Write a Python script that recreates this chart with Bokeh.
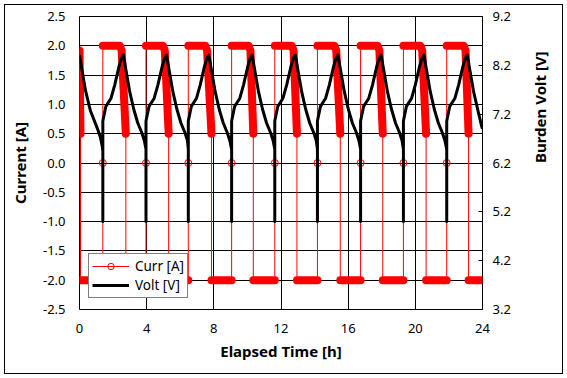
import math
from bokeh.plotting import figure
from bokeh.models import (Range1d, LinearAxis, FixedTicker, PrintfTickFormatter,
                          Legend, LegendItem)
from bokeh.embed import file_html
from bokeh.resources import INLINE

# ---------------- data ----------------
x_ticks = [0, 4, 8, 12, 16, 20, 24]
curr_ticks = [-2.5, -2.0, -1.5, -1.0, -0.5, 0.0, 0.5, 1.0, 1.5, 2.0, 2.5]
volt_ticks = [3.2, 4.2, 5.2, 6.2, 7.2, 8.2, 9.2]

# Current: cycle event times [h]
charge_start = [1.39, 3.96, 6.48, 9.06, 11.63, 14.17, 16.74, 19.29, 21.87]   # rest point / jump to +2 A
cv_start     = [2.41, 4.98, 7.50, 10.08, 12.65, 15.19, 17.76, 20.31, 22.89]  # end of constant current
cv_knee      = [2.51, 5.08, 7.60, 10.18, 12.75, 15.29, 17.86, 20.41, 22.99]
disch_start  = [2.76, 5.31, 7.86, 10.35, 12.95, 15.53, 18.06, 20.64, 23.17]  # jump to -2 A
init_t = [0.00, 0.06]
init_a = [1.92, 0.50]
end_t = 24.0
i_charge, i_knee, i_cv_end, i_rest, i_disch = 2.0, 1.92, 0.5, 0.0, -2.0

# Voltage [V] (secondary axis), explicit points
volt_t = [
    [0.00, 0.16, 0.36, 0.65, 1.05, 1.25, 1.35, 1.39],
    [1.39, 1.39, 1.57, 1.87, 2.10, 2.34, 2.49, 2.61, 2.79, 2.99, 3.23, 3.47, 3.71, 3.86, 3.96],
    [3.96, 3.96, 4.14, 4.44, 4.67, 4.91, 5.06, 5.18, 5.36, 5.56, 5.80, 6.04, 6.28, 6.43, 6.48],
    [6.48, 6.48, 6.66, 6.96, 7.19, 7.43, 7.58, 7.70, 7.88, 8.08, 8.32, 8.56, 8.80, 8.95, 9.06],
    [9.06, 9.06, 9.24, 9.54, 9.77, 10.01, 10.16, 10.28, 10.46, 10.66, 10.90, 11.14, 11.38, 11.53, 11.63],
    [11.63, 11.63, 11.81, 12.11, 12.34, 12.58, 12.73, 12.85, 13.03, 13.23, 13.47, 13.71, 13.95, 14.10, 14.17],
    [14.17, 14.17, 14.35, 14.65, 14.88, 15.12, 15.27, 15.39, 15.57, 15.77, 16.01, 16.25, 16.49, 16.64, 16.74],
    [16.74, 16.74, 16.92, 17.22, 17.45, 17.69, 17.84, 17.96, 18.14, 18.34, 18.58, 18.82, 19.06, 19.21, 19.29],
    [19.29, 19.29, 19.47, 19.77, 20.00, 20.24, 20.39, 20.51, 20.69, 20.89, 21.13, 21.37, 21.61, 21.76, 21.87],
    [21.87, 21.87, 22.05, 22.35, 22.58, 22.82, 22.97, 23.09, 23.27, 23.47, 23.71, 23.95, 24.00],
]
volt_v = [
    [8.41, 8.08, 7.68, 7.27, 6.92, 6.72, 6.55, 6.45],
    [5.0, 7.06, 7.36, 7.52, 7.80, 8.16, 8.34, 8.41, 8.06, 7.66, 7.30, 7.02, 6.82, 6.66, 6.48],
    [5.0, 7.06, 7.36, 7.52, 7.80, 8.16, 8.34, 8.41, 8.06, 7.66, 7.30, 7.02, 6.82, 6.66, 6.48],
    [5.0, 7.06, 7.36, 7.52, 7.80, 8.16, 8.34, 8.41, 8.06, 7.66, 7.30, 7.02, 6.82, 6.66, 6.48],
    [5.0, 7.06, 7.36, 7.52, 7.80, 8.16, 8.34, 8.41, 8.06, 7.66, 7.30, 7.02, 6.82, 6.66, 6.48],
    [5.0, 7.06, 7.36, 7.52, 7.80, 8.16, 8.34, 8.41, 8.06, 7.66, 7.30, 7.02, 6.82, 6.66, 6.48],
    [5.0, 7.06, 7.36, 7.52, 7.80, 8.16, 8.34, 8.41, 8.06, 7.66, 7.30, 7.02, 6.82, 6.66, 6.48],
    [5.0, 7.06, 7.36, 7.52, 7.80, 8.16, 8.34, 8.41, 8.06, 7.66, 7.30, 7.02, 6.82, 6.66, 6.48],
    [5.0, 7.06, 7.36, 7.52, 7.80, 8.16, 8.34, 8.41, 8.06, 7.66, 7.30, 7.02, 6.82, 6.66, 6.48],
    [5.0, 7.06, 7.36, 7.52, 7.80, 8.16, 8.34, 8.41, 8.06, 7.66, 7.30, 6.95, 6.90],
]

# ---------------- build series ----------------
NaN = float("nan")
thin_x, thin_y = list(init_t), list(init_a)
thin_x.append(init_t[-1]); thin_y.append(i_disch)
thick_x = list(init_t) + [NaN, init_t[-1], charge_start[0], NaN]
thick_y = list(init_a) + [NaN, i_disch, i_disch, NaN]
for k in range(len(charge_start)):
    ta, tc, tk, tb = charge_start[k], cv_start[k], cv_knee[k], disch_start[k]
    tn = charge_start[k + 1] if k + 1 < len(charge_start) else end_t
    thin_x += [ta, ta, ta, tc, tk, tb, tb]
    thin_y += [i_disch, i_rest, i_charge, i_charge, i_knee, i_cv_end, i_disch]
    thick_x += [ta, tc, tk, tb, NaN, tb, tn, NaN]
    thick_y += [i_charge, i_charge, i_knee, i_cv_end, NaN, i_disch, i_disch, NaN]
thin_x.append(end_t); thin_y.append(i_disch)

vx, vy = [], []
for ts, vs in zip(volt_t, volt_v):
    vx += ts
    vy += vs

FONT = "Noto Sans"

p = figure(width=557, height=368, output_backend="svg", toolbar_location=None,
           x_range=Range1d(0, 24), y_range=Range1d(-2.5, 2.5),
           min_border_left=74, min_border_right=79, min_border_top=11, min_border_bottom=64)
p.margin = (5, 5, 5, 5)
p.styles = {"outline": "1px solid black"}
p.extra_y_ranges = {"volt": Range1d(3.2, 9.2)}
p.outline_line_color = "black"
p.outline_line_width = 1
p.background_fill_color = "white"
p.border_fill_color = "white"

p.xaxis.ticker = FixedTicker(ticks=x_ticks)
p.yaxis.ticker = FixedTicker(ticks=curr_ticks)
p.yaxis.formatter = PrintfTickFormatter(format="%.1f")
for ax in (p.xaxis[0], p.yaxis[0]):
    ax.major_tick_in = 0
    ax.major_tick_out = 0
    ax.minor_tick_line_color = None
    ax.axis_line_color = None
    ax.major_label_text_font = FONT
    ax.major_label_text_font_size = "13px"
    ax.major_label_text_color = "black"
    ax.axis_label_text_font = FONT
    ax.axis_label_text_font_size = "15px"
    ax.axis_label_text_font_style = "bold"
    ax.axis_label_text_color = "black"
p.xaxis.major_label_standoff = 14
p.xaxis.axis_label = "Elapsed Time [h]"
p.xaxis.axis_label_standoff = 5
p.yaxis.major_label_standoff = 14
p.yaxis.axis_label = "Current [A]"
p.yaxis.axis_label_standoff = 10

ry = LinearAxis(y_range_name="volt", ticker=FixedTicker(ticks=volt_ticks),
                formatter=PrintfTickFormatter(format="%.1f"))
ry.major_tick_in = 4
ry.major_tick_out = 0
ry.major_tick_line_color = "black"
ry.minor_tick_line_color = None
ry.axis_line_color = None
ry.major_label_standoff = 10
ry.major_label_text_font = FONT
ry.major_label_text_font_size = "13px"
ry.major_label_text_color = "black"
ry.axis_label = "Burden Volt [V]"
ry.axis_label_standoff = 26
ry.axis_label_text_font = FONT
ry.axis_label_text_font_size = "15px"
ry.axis_label_text_font_style = "bold"
ry.axis_label_text_color = "black"
if "axis_label_orientation" in ry.properties():
    ry.axis_label_orientation = math.pi / 2
p.add_layout(ry, "right")

p.xgrid.ticker = FixedTicker(ticks=x_ticks)
p.ygrid.ticker = FixedTicker(ticks=curr_ticks)
for g in (p.xgrid[0], p.ygrid[0]):
    g.grid_line_color = "black"
    g.grid_line_width = 1
    g.grid_line_alpha = 1

p.line(thick_x, thick_y, line_color="#FF0000", line_width=8,
       line_cap="round", line_join="round")
thin_r = p.line(thin_x, thin_y, line_color="#FF0000", line_width=1)
rest_r = p.scatter(charge_start, [i_rest] * len(charge_start), marker="circle", size=7,
                   line_color="#FF0000", line_width=1, fill_alpha=0)
volt_r = p.line(vx, vy, y_range_name="volt", line_color="black", line_width=3,
                line_join="round")

legend = Legend(items=[LegendItem(label="Curr [A]", renderers=[thin_r, rest_r]),
                       LegendItem(label="Volt [V]", renderers=[volt_r])],
                location=(9, 11))
legend.border_line_color = "black"
legend.border_line_width = 1
legend.background_fill_color = "white"
legend.background_fill_alpha = 1
legend.padding = 3
legend.spacing = 1
legend.margin = 0
legend.glyph_width = 37
legend.glyph_height = 16
legend.label_height = 16
legend.label_standoff = 6
legend.label_text_font = FONT
legend.label_text_font_size = "13.5px"
legend.label_text_color = "black"
legend.label_text_baseline = "middle"
p.add_layout(legend)

open("out.html", "w").write(file_html(p, INLINE))
